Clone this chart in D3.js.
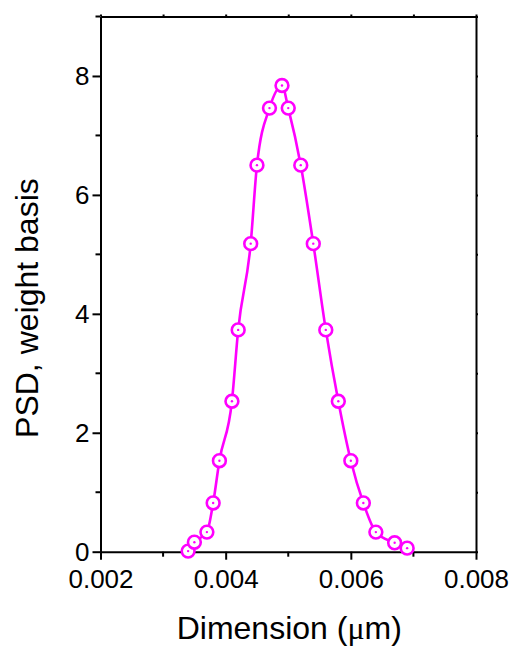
<!DOCTYPE html>
<html lang="en">
<head>
  <meta charset="utf-8">
  <title>psd</title>
  <style>
  * { margin:0; padding:0; }
  body { background:#fff; }
  svg text { font-family: Arial, "Liberation Sans", sans-serif; fill:#000; }
  </style>
  <script src="https://d3js.org/d3.v7.min.js"></script>
</head>
<body>
  <div id="chart"></div>
  <script type="text/javascript">
  // dimension (um) and PSD values
  var dims=[0.0034,0.0035,0.0037,0.0038,0.0039,0.0041,0.0042,0.0044,0.0045,0.0047,0.0049,
            0.0050,0.0052,0.0054,0.0056,0.0058,0.0060,0.0062,0.0064,0.0067,0.0069];
  var psd=[0.01,0.16,0.33,0.82,1.53,2.53,3.73,5.18,6.50,7.46,7.84,
           7.46,6.50,5.18,3.73,2.53,1.53,0.82,0.33,0.15,0.06];
  var xMajor=[0.002,0.004,0.006,0.008];
  var xMinor=[0.003,0.005,0.007];
  var yMajor=[0,2,4,6,8];
  var yMinor=[1,3,5,7,9];

  var w=510, h=646;
  var mLeft=100.5, mRight=476, mTop=16.5, mBottom=551.7;
  var col="#ff00ff";

  var svg=d3.select("#chart").append("svg")
    .attr("width",w).attr("height",h);

  var x=d3.scaleLinear().domain([0.002,0.008]).range([mLeft,mRight]);
  var y=d3.scaleLinear().domain([0,9]).range([mBottom,mTop]);

  var data=dims.map(function(d,i){return {x:d,y:psd[i]};});

  // bottom axis
  var gx=svg.append("g").attr("transform","translate(0,"+mBottom+")")
    .call(d3.axisBottom(x).tickValues(xMajor).tickSize(8).tickSizeOuter(0)
      .tickFormat(d3.format(".3f")));
  gx.append("g").selectAll("line").data(xMinor).enter().append("line")
    .attr("x1",function(d){return x(d);}).attr("x2",function(d){return x(d);})
    .attr("y1",0).attr("y2",5);

  // left axis
  var gy=svg.append("g").attr("transform","translate("+mLeft+",0)")
    .call(d3.axisLeft(y).tickValues(yMajor).tickSize(8).tickSizeOuter(0)
      .tickFormat(d3.format("d")));
  gy.append("g").selectAll("line").data(yMinor).enter().append("line")
    .attr("y1",function(d){return y(d);}).attr("y2",function(d){return y(d);})
    .attr("x1",0).attr("x2",-5);

  // top & right with tiny ticks
  var gt=svg.append("g").attr("transform","translate(0,"+mTop+")")
    .call(d3.axisTop(x).tickValues(xMajor.concat(xMinor)).tickSize(2).tickSizeOuter(0).tickFormat(""));
  var gr=svg.append("g").attr("transform","translate("+mRight+",0)")
    .call(d3.axisRight(y).tickValues(yMajor.concat(yMinor)).tickSize(2).tickSizeOuter(0).tickFormat(""));

  [gx,gy,gt,gr].forEach(function(g){
    g.attr("font-family",null).attr("font-size",null);
    g.select(".domain").attr("stroke","#000").attr("stroke-width",2);
    g.selectAll("line").attr("stroke","#000").attr("stroke-width",2);
  });
  gx.selectAll(".tick text").style("font-size","26px").attr("y",18).attr("dy","0.71em");
  gy.selectAll(".tick text").style("font-size","26px").attr("x",-11);

  // curve
  var line=d3.line().x(function(d){return x(d.x);}).y(function(d){return y(d.y);})
    .curve(d3.curveMonotoneX);
  svg.append("path").datum(data)
    .attr("d",line)
    .attr("fill","none").attr("stroke",col).attr("stroke-width",2.6);

  // markers: open circle with centre dot
  var pts=svg.append("g").selectAll("g").data(data).enter().append("g")
    .attr("transform",function(d){return "translate("+x(d.x)+","+y(d.y)+")";});
  pts.append("circle").attr("r",6.4)
    .attr("fill","#fff").attr("stroke",col).attr("stroke-width",2.6);
  pts.append("circle").attr("r",1.2).attr("fill",col);

  // titles
  var xt=svg.append("text")
    .attr("x",(mLeft+mRight)/2+1).attr("y",639)
    .attr("text-anchor","middle").style("font-size","32px");
  xt.append("tspan").text("Dimension (");
  xt.append("tspan").style("font-family","'Liberation Serif', 'Times New Roman', serif").text("\u03bc");
  xt.append("tspan").text("m)");
  svg.append("text")
    .attr("transform","translate(38,"+((mTop+mBottom)/2+24)+") rotate(-90)")
    .attr("text-anchor","middle").style("font-size","32px")
    .text("PSD, weight basis");
  </script>
</body>
</html>
